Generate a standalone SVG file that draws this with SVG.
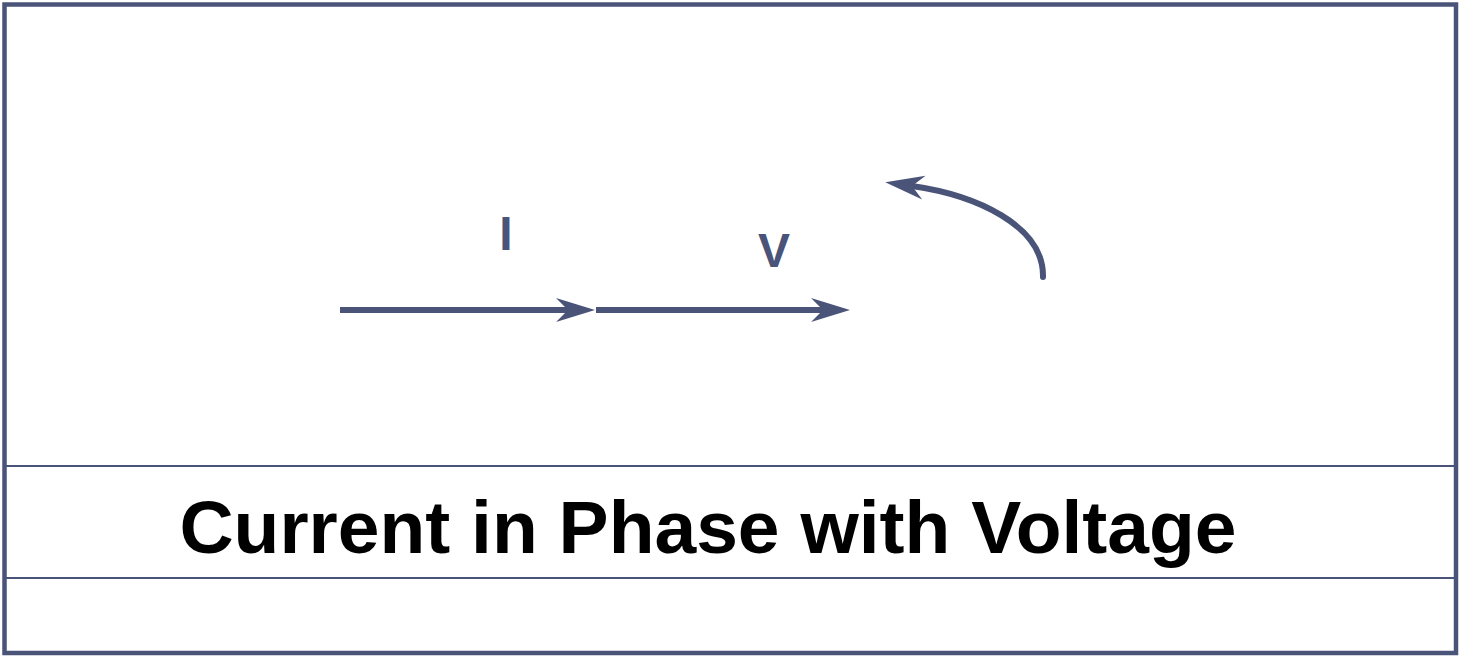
<svg xmlns="http://www.w3.org/2000/svg" width="1461" height="656" viewBox="0 0 1461 656">
<style>
.frame{fill:#ffffff;stroke:#4a5479;stroke-width:4.5}
.rule{stroke:#4a5479;stroke-width:2}
.vec{fill:none;stroke:#4a5479;stroke-width:6}
.lbl{font-family:"Liberation Sans",Arial,sans-serif;font-weight:bold;fill:#4a5479;font-size:48px;text-anchor:middle}
.cap{font-family:"Liberation Sans",Arial,sans-serif;font-weight:bold;fill:#000000;font-size:75px;text-anchor:middle}
</style>
<defs>
<marker id="ah" markerUnits="userSpaceOnUse" markerWidth="42" markerHeight="28" viewBox="-41 -14 42 28" refX="-27" refY="0" orient="auto">
<path d="M0,0 L-39,-12 L-27,0 L-39,12 Z" fill="#4a5479"/>
</marker>
</defs>
<g id="frame">
<rect class="frame" x="4.5" y="4.5" width="1451.5" height="648.5"/>
<line class="rule" x1="6" y1="466" x2="1454" y2="466"/>
<line class="rule" x1="6" y1="578" x2="1454" y2="578"/>
</g>
<g id="connectors">
<line id="vecI" class="vec" x1="340" y1="310" x2="568" y2="310" marker-end="url(#ah)"/>
<line id="vecV" class="vec" x1="596" y1="310" x2="823" y2="310" marker-end="url(#ah)"/>
<path id="rotation" class="vec" stroke-linecap="round" d="M1043,277 C1044,225 975,195 912,186" marker-end="url(#ah)"/>
</g>
<g id="label-I"><text class="lbl" x="506" y="250">I</text></g>
<g id="label-V"><text class="lbl" x="774" y="267">V</text></g>
<g id="caption"><text class="cap" x="708" y="553">Current in Phase with Voltage</text></g>
</svg>
